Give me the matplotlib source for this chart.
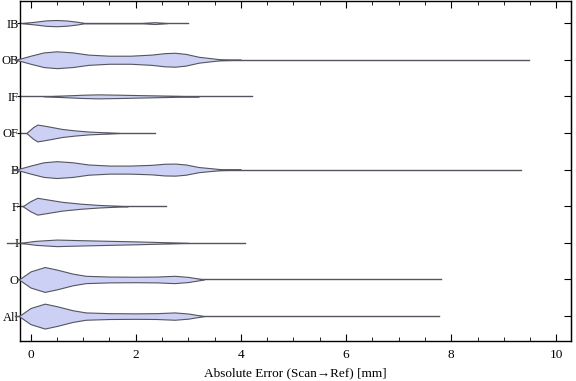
import numpy as np
import matplotlib.pyplot as plt

plt.rcParams['font.family'] = ['Liberation Serif', 'DejaVu Serif']

# categories, bottom to top
categories = ['All', 'O', 'I', 'F', 'B', 'OF', 'IF', 'OB', 'IB']

# violin outlines: x positions [mm] and half-widths (row units)
prof_x = {
    'IB': [-0.17, 0.1, 0.3, 0.5, 0.7, 0.9, 1.03, 2.1, 2.36, 2.6],
    'OB': [-0.3, -0.2, 0.0, 0.25, 0.5, 0.8, 1.1, 1.5, 1.9, 2.3, 2.55, 2.75, 2.95, 3.2, 3.6, 4.0],
    'IF': [0.25, 0.6, 1.0, 1.3, 1.7, 2.2, 2.7, 3.2],
    'OF': [-0.08, 0.05, 0.13, 0.3, 0.6, 0.85, 1.1, 1.4, 1.7],
    'B':  [-0.3, -0.2, 0.0, 0.25, 0.5, 0.8, 1.1, 1.5, 1.9, 2.3, 2.55, 2.75, 2.95, 3.2, 3.6, 4.0],
    'F':  [-0.15, 0.0, 0.13, 0.3, 0.6, 0.95, 1.3, 1.6, 1.85],
    'I':  [-0.2, 0.1, 0.5, 0.9, 1.5, 2.0, 2.5, 3.0],
    'O':  [-0.22, 0.0, 0.27, 0.5, 0.8, 1.05, 1.5, 2.0, 2.4, 2.74, 3.0, 3.3],
    'All': [-0.22, 0.0, 0.27, 0.5, 0.8, 1.05, 1.5, 2.0, 2.4, 2.74, 3.0, 3.3],
}
prof_w = {
    'IB': [0, 0.04, 0.075, 0.085, 0.07, 0.035, 0, 0, 0.025, 0],
    'OB': [0, 0.03, 0.11, 0.2, 0.23, 0.2, 0.14, 0.11, 0.11, 0.14, 0.18, 0.19, 0.16, 0.08, 0.015, 0],
    'IF': [0, 0.02, 0.045, 0.055, 0.045, 0.03, 0.015, 0],
    'OF': [0, 0.16, 0.23, 0.19, 0.11, 0.07, 0.04, 0.02, 0],
    'B':  [0, 0.03, 0.11, 0.2, 0.23, 0.2, 0.14, 0.11, 0.11, 0.13, 0.16, 0.165, 0.14, 0.07, 0.015, 0],
    'F':  [0, 0.14, 0.23, 0.19, 0.12, 0.07, 0.035, 0.015, 0],
    'I':  [0, 0.055, 0.09, 0.075, 0.055, 0.04, 0.02, 0],
    'O':  [0, 0.22, 0.34, 0.27, 0.16, 0.1, 0.08, 0.075, 0.08, 0.1, 0.07, 0],
    'All': [0, 0.22, 0.34, 0.27, 0.16, 0.1, 0.08, 0.075, 0.08, 0.1, 0.07, 0],
}
# range of the whisker line (min, max error)
line_min = {'IB': -0.2, 'OB': -0.3, 'IF': -0.2, 'OF': -0.2, 'B': -0.35,
            'F': -0.2, 'I': -0.45, 'O': -0.25, 'All': -0.3}
line_max = {'IB': 3.0, 'OB': 9.47, 'IF': 4.22, 'OF': 2.36, 'B': 9.32,
            'F': 2.58, 'I': 4.07, 'O': 7.81, 'All': 7.77}

fig = plt.figure(figsize=(5.76, 3.81), dpi=100)
ax = fig.add_axes([0.0347, 0.105, 0.956, 0.892])

for i, cat in enumerate(categories):
    y = i + 1
    ax.plot([line_min[cat], line_max[cat]], [y, y], color='#55555f', lw=1.0,
            clip_on=False, zorder=2)
    x = np.array(prof_x[cat])
    w = np.array(prof_w[cat])
    ax.fill_between(x, y - w, y + w, facecolor='#cbd0f4', edgecolor='#55555f',
                    lw=0.8, clip_on=False, zorder=3)

ax.set_xlim(-0.2, 10.27)
ax.set_ylim(0.32, 9.6)
ax.set_yticks(range(1, len(categories) + 1))
ax.set_yticklabels(categories)
ax.set_xticks(range(0, 11, 2))
ax.set_xticks(np.arange(0, 10.5, 0.5), minor=True)
ax.tick_params(axis='x', which='both', direction='in', top=True, labelsize=9.5, pad=6)
ax.tick_params(axis='x', which='major', length=5)
ax.tick_params(axis='x', which='minor', length=3)
ax.tick_params(axis='y', which='both', direction='out', length=2, labelsize=9, pad=-1)
for sp in ax.spines.values():
    sp.set_linewidth(1.0)
ax.set_xlabel('Absolute Error (Scan→Ref) [mm]', fontsize=9.5, labelpad=4)

# inward ticks on the right side
ax2 = ax.secondary_yaxis('right')
ax2.set_yticks(range(1, len(categories) + 1))
ax2.tick_params(direction='in', length=5, labelright=False)

fig.savefig('out.png', dpi=100)
